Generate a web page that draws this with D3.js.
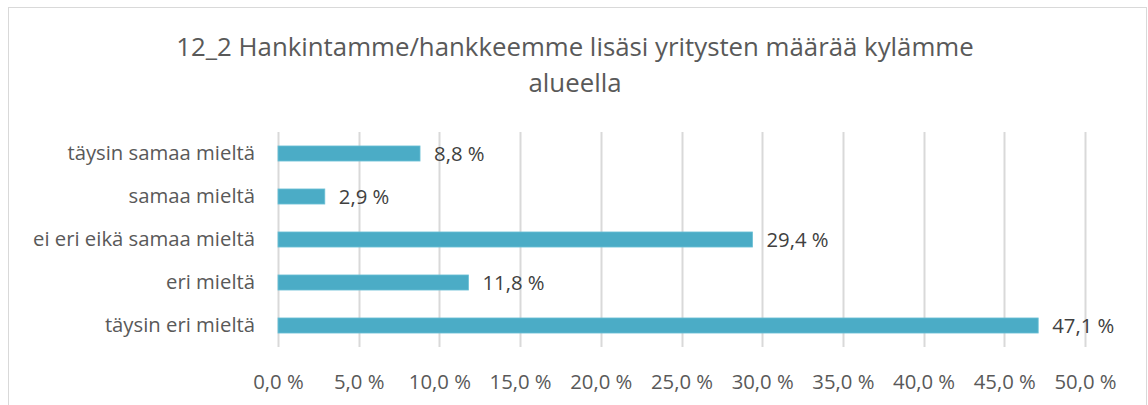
<!DOCTYPE html>
<html>
<head>
<meta charset="utf-8">
<script src="https://cdn.jsdelivr.net/npm/d3@7/dist/d3.min.js"></script>
<style>
  html, body { margin: 0; padding: 0; background: #fff; }
  svg { display: block; font-family: "Open Sans", sans-serif; }
</style>
</head>
<body>
<svg id="chart" width="1148" height="405"></svg>
<script>
// Survey answers, top to bottom
const categories = [
  "täysin samaa mieltä",
  "samaa mieltä",
  "ei eri eikä samaa mieltä",
  "eri mieltä",
  "täysin eri mieltä"
];
const shares = [8.8, 2.9, 29.4, 11.8, 47.1];
const tickValues = [0, 5, 10, 15, 20, 25, 30, 35, 40, 45, 50];
const titleLines = [
  "12_2 Hankintamme/hankkeemme lisäsi yritysten määrää kylämme",
  "alueella"
];

const svg = d3.select("#chart");
const plot = { left: 278, right: 1085, top: 132, bottom: 347 };
const labelSize = "20.3px";

const fmt = v => d3.format(".1f")(v).replace(".", ",") + " %";

// chart frame
svg.append("rect")
  .attr("x", 8.5).attr("y", 7.5)
  .attr("width", 1138).attr("height", 420)
  .attr("fill", "#fff").attr("stroke", "#d9d9d9").attr("stroke-width", 1);

// title
svg.append("text")
  .attr("x", 575).attr("y", 56)
  .attr("text-anchor", "middle")
  .attr("fill", "#595959")
  .style("font-size", "25.8px")
  .selectAll("tspan")
  .data(titleLines)
  .join("tspan")
  .attr("x", 575)
  .attr("dy", (d, i) => i === 0 ? 0 : 36)
  .text(d => d);

const x = d3.scaleLinear().domain([0, 50]).range([plot.left, plot.right]);
const y = d3.scaleBand().domain(categories).range([plot.top, plot.bottom]).paddingInner(0.65).paddingOuter(0.325);

// vertical gridlines
svg.append("g")
  .selectAll("line")
  .data(tickValues)
  .join("line")
  .attr("x1", d => Math.round(x(d)) + 0.5)
  .attr("x2", d => Math.round(x(d)) + 0.5)
  .attr("y1", plot.top)
  .attr("y2", plot.bottom)
  .attr("stroke", "#d9d9d9")
  .attr("stroke-width", 2);

// x axis labels
const xAxis = d3.axisBottom(x).tickValues(tickValues).tickFormat(fmt).tickSize(0).tickPadding(0);
const gx = svg.append("g").attr("transform", `translate(0,${plot.bottom + 27})`).call(xAxis);
gx.select(".domain").remove();
gx.selectAll("text")
  .attr("fill", "#595959")
  .attr("dy", "0.35em")
  .attr("y", 8)
  .style("font-size", labelSize)
  .style("font-family", "'Open Sans', sans-serif");

// y axis labels
const yAxis = d3.axisLeft(y).tickSize(0).tickPadding(0);
const gy = svg.append("g").attr("transform", `translate(${plot.left - 23},0)`).call(yAxis);
gy.select(".domain").remove();
gy.selectAll("text")
  .attr("fill", "#595959")
  .style("font-size", labelSize)
  .style("font-family", "'Open Sans', sans-serif");

// bars
svg.append("g")
  .selectAll("rect")
  .data(categories)
  .join("rect")
  .attr("x", x(0))
  .attr("y", d => y(d))
  .attr("width", (d, i) => x(shares[i]) - x(0))
  .attr("height", y.bandwidth())
  .attr("fill", "#4bacc6")
  .attr("stroke", "#6cc0d6")
  .attr("stroke-width", 0.8);

// value labels
svg.append("g")
  .selectAll("text")
  .data(categories)
  .join("text")
  .attr("x", (d, i) => x(shares[i]) + 14)
  .attr("y", d => y(d) + y.bandwidth() / 2)
  .attr("dy", "0.35em")
  .attr("fill", "#404040")
  .style("font-size", labelSize)
  .text((d, i) => fmt(shares[i]));
</script>
</body>
</html>
